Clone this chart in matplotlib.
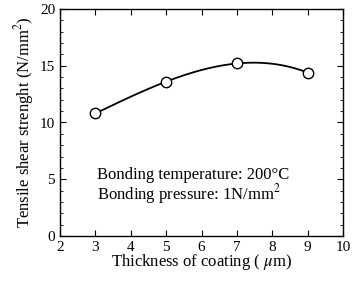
import numpy as np
import matplotlib
matplotlib.use("Agg")
import matplotlib.pyplot as plt
from matplotlib.ticker import MultipleLocator

# data
espessura = [3, 5, 7, 9]
resistencia = [10.8, 13.6, 15.2, 14.4]

plt.rcParams["font.family"] = ["Liberation Serif", "DejaVu Serif"]
plt.rcParams["mathtext.fontset"] = "stix"

fig = plt.figure(figsize=(3.54, 2.83), dpi=100)
ax = fig.add_axes([60 / 354, 1 - 236 / 283, 283 / 354, 227 / 283])

# curva suave pelos pontos medidos
coef = np.polyfit(espessura, resistencia, 3)
xs = np.linspace(espessura[0], espessura[-1], 200)
ax.plot(xs, np.polyval(coef, xs), color="black", lw=1.3)
ax.plot(espessura, resistencia, "o", ms=7.5, mfc="white", mec="black", mew=1.0)

ax.set_xlim(2, 10)
ax.set_ylim(0, 20)
ax.xaxis.set_major_locator(MultipleLocator(1))
ax.yaxis.set_major_locator(MultipleLocator(5))
ax.yaxis.set_minor_locator(MultipleLocator(1))
ax.tick_params(which="both", direction="in", top=True, right=True, labelsize=11)
ax.tick_params(which="major", length=4)
ax.tick_params(which="minor", length=2.5)
for s in ax.spines.values():
    s.set_linewidth(1.0)

ax.text(3.05, 5.4, "Bonding temperature: 200°C", fontsize=12, va="center")
ax.text(3.05, 3.7, "Bonding pressure: 1N/mm$^2$", fontsize=12, va="center")

ax.set_xlabel("Thickness of coating ( $\\mu$m)", fontsize=12, labelpad=-1)
ax.set_ylabel("Tensile shear strenght (N/mm$^2$)", fontsize=12, labelpad=3)

fig.savefig("out.png", dpi=100)
